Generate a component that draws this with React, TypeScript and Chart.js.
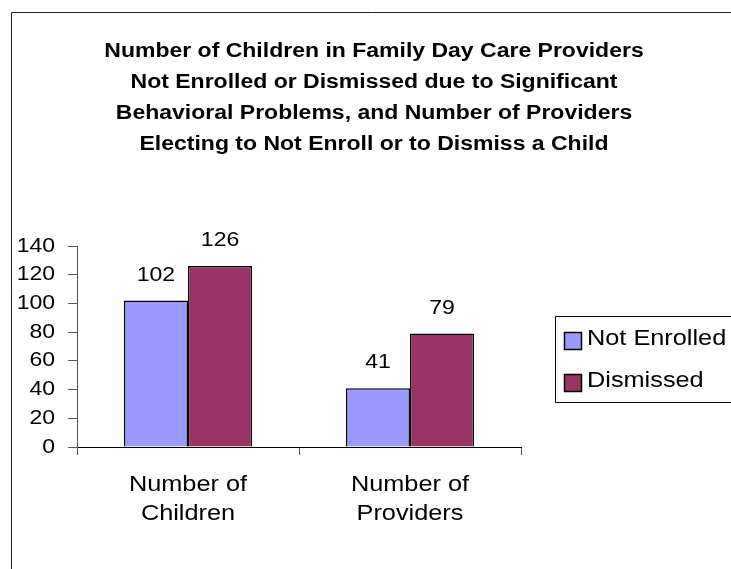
import React, { useEffect, useRef } from "react";
import { Chart, registerables } from "chart.js";

Chart.register(...registerables);

const titleLines = [
  "Number of Children in Family Day Care Providers",
  "Not Enrolled or Dismissed due to Significant",
  "Behavioral Problems, and Number of Providers",
  "Electing to Not Enroll or to Dismiss a Child",
];
const categories = [["Number of", "Children"], ["Number of", "Providers"]];
const notEnrolled = [102, 41];
const dismissed = [126, 79];
const seriesNames = ["Not Enrolled", "Dismissed"];
const yTicks = [0, 20, 40, 60, 80, 100, 120, 140];

const FONT = "Arial, 'Liberation Sans', sans-serif";
const TEXT_STRETCH = 1.15;

const framePlugin = {
  id: "frame",
  beforeDraw(chart: any) {
    const ctx = chart.ctx;
    ctx.save();
    ctx.fillStyle = "#fff";
    ctx.fillRect(0, 0, chart.width, chart.height);
    ctx.strokeStyle = "#222";
    ctx.lineWidth = 1;
    ctx.beginPath();
    ctx.moveTo(11.5, chart.height);
    ctx.lineTo(11.5, 12.5);
    ctx.lineTo(chart.width, 12.5);
    ctx.stroke();
    ctx.restore();
  },
};

const titlePlugin = {
  id: "customTitle",
  afterDraw(chart: any) {
    const ctx = chart.ctx;
    ctx.save();
    ctx.font = `bold 20px ${FONT}`;
    ctx.fillStyle = "#000";
    ctx.textAlign = "center";
    ctx.textBaseline = "alphabetic";
    titleLines.forEach((l, i) => ctx.fillText(l, 374, 57 + i * 31));
    ctx.restore();
  },
};

const labelPlugin = {
  id: "valueLabels",
  afterDatasetsDraw(chart: any) {
    const ctx = chart.ctx;
    ctx.save();
    ctx.font = `20px ${FONT}`;
    ctx.fillStyle = "#000";
    ctx.textAlign = "center";
    ctx.textBaseline = "alphabetic";
    chart.data.datasets.forEach((ds: any, di: number) => {
      const meta = chart.getDatasetMeta(di);
      meta.data.forEach((el: any, i: number) => {
        ctx.fillText(String(ds.data[i]), el.x, el.y - 20);
      });
    });
    ctx.restore();
  },
};

const legendPlugin = {
  id: "customLegend",
  afterDraw(chart: any) {
    const ctx = chart.ctx;
    ctx.save();
    ctx.strokeStyle = "#000";
    ctx.lineWidth = 1;
    ctx.fillStyle = "#fff";
    ctx.beginPath();
    ctx.rect(555.5, 316.5, chart.width, 86);
    ctx.fill();
    ctx.stroke();
    ctx.font = `22px ${FONT}`;
    ctx.textAlign = "left";
    ctx.textBaseline = "alphabetic";
    chart.data.datasets.forEach((ds: any, i: number) => {
      const y = 332 + i * 42;
      ctx.fillStyle = ds.backgroundColor;
      ctx.fillRect(564.5, y + 0.5, 17, 17);
      ctx.strokeStyle = "#000";
      ctx.lineWidth = 1.5;
      ctx.strokeRect(564.5, y + 0.5, 17, 17);
      ctx.fillStyle = "#000";
      ctx.fillText(ds.label, 587, y + 13);
    });
    ctx.restore();
  },
};

export default function App() {
  const ref = useRef<HTMLCanvasElement>(null);
  useEffect(() => {
    document.body.style.margin = "0";
    const canvas = ref.current!;
    const c2d: any = canvas.getContext("2d");
    const origFill = c2d.fillText.bind(c2d);
    // widen glyphs slightly to match the reference's text rendering
    c2d.fillText = (t: string, x: number, y: number) => {
      c2d.save();
      c2d.translate(x, y);
      c2d.scale(TEXT_STRETCH, 1);
      origFill(t, 0, 0);
      c2d.restore();
    };
    const chart = new Chart(canvas, {
      type: "bar",
      data: {
        labels: categories as any,
        datasets: [
          {
            label: seriesNames[0],
            data: notEnrolled,
            backgroundColor: "#9999FF",
            borderColor: "#000",
            borderWidth: 1.5,
          },
          {
            label: seriesNames[1],
            data: dismissed,
            backgroundColor: "#993366",
            borderColor: "#000",
            borderWidth: 1.5,
          },
        ],
      },
      options: {
        responsive: false,
        animation: false,
        layout: { padding: { top: 246, right: 210, left: 0, bottom: 0 } },
        plugins: {
          legend: { display: false },
          title: { display: false },
          tooltip: { enabled: false },
        },
        datasets: { bar: { categoryPercentage: 0.577, barPercentage: 1 } },
        scales: {
          x: {
            offset: true,
            grid: {
              offset: true,
              drawOnChartArea: false,
              tickLength: 8,
              color: "#555",
            },
            border: { color: "#000", width: 1 },
            ticks: {
              color: "#000",
              font: { family: FONT, size: 22, lineHeight: 1.32 },
              padding: 15,
              maxRotation: 0,
              autoSkip: false,
            },
            afterFit(scale: any) {
              scale.height = 122;
            },
          },
          y: {
            min: 0,
            max: 140,
            afterBuildTicks(scale: any) {
              scale.ticks = yTicks.map((v) => ({ value: v }));
            },
            grid: {
              drawOnChartArea: false,
              tickLength: 9,
              color: "#555",
            },
            border: { color: "#555", width: 1 },
            ticks: {
              color: "#000",
              font: { family: FONT, size: 20 },
              padding: 13,
            },
            afterFit(scale: any) {
              scale.width = 77;
            },
          },
        },
      },
      plugins: [framePlugin, labelPlugin, titlePlugin, legendPlugin],
    });
    return () => {
      chart.destroy();
      c2d.fillText = origFill;
    };
  }, []);
  return <canvas ref={ref} width={731} height={569} style={{ display: "block" }} />;
}
